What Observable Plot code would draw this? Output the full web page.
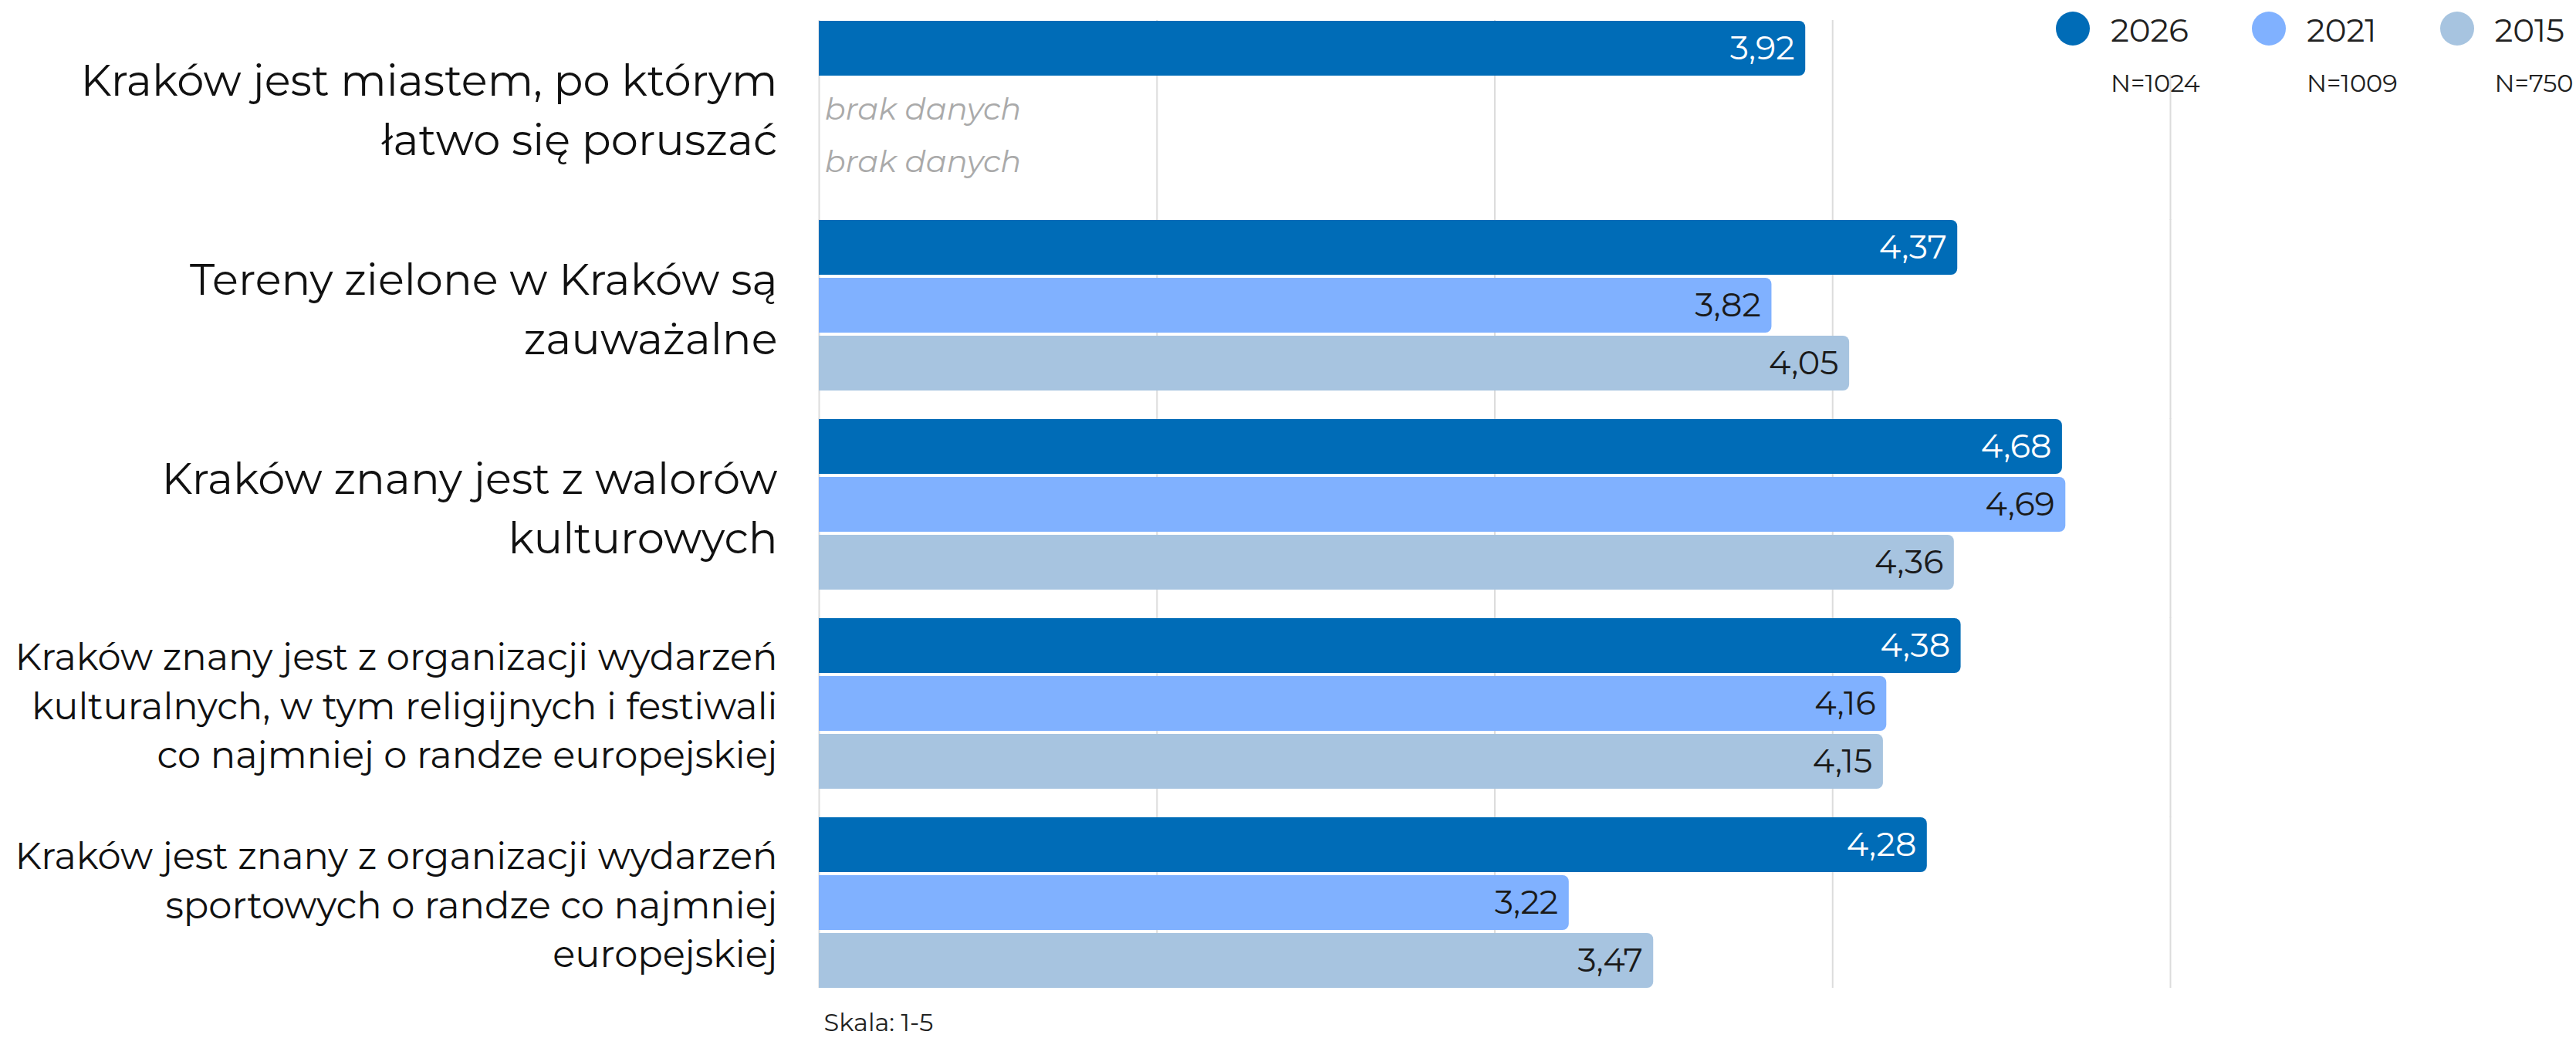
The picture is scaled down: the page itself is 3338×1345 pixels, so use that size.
<!DOCTYPE html>
<html><head><meta charset="utf-8">
<script src="https://cdn.jsdelivr.net/npm/d3@7"></script>
<script src="https://cdn.jsdelivr.net/npm/@observablehq/plot@0.6"></script>
<style>
html,body{margin:0;padding:0;background:#fff;}
#wrap{position:relative;width:3338px;height:1345px;font-family:Montserrat, Inter, sans-serif;}
#legend{position:absolute;left:2664px;top:15px;display:flex;background:#fff;height:82px;align-items:flex-start}
.item{position:relative;display:flex;align-items:center;margin-right:82px;}
.item:last-child{margin-right:0}
.dot{width:44px;height:44px;border-radius:50%;margin-right:27px;flex:none}
.yr{font-size:42px;line-height:44px;color:#222;position:relative;top:2px}
.n{position:absolute;left:71px;top:77px;font-size:32px;line-height:32px;color:#222;white-space:nowrap}
</style></head>
<body><div id="wrap"><div id="legend"></div></div>
<script>
const categories = [
  "Kraków jest miastem, po którym\nłatwo się poruszać",
  "Tereny zielone w Kraków są\nzauważalne",
  "Kraków znany jest z walorów\nkulturowych",
  "Kraków znany jest z organizacji wydarzeń\nkulturalnych, w tym religijnych i festiwali\nco najmniej o randze europejskiej",
  "Kraków jest znany z organizacji wydarzeń\nsportowych o randze co najmniej\neuropejskiej"
];
const years = ["2026", "2021", "2015"];
const sampleSizes = ["N=1024", "N=1009", "N=750"];
const values2026 = [3.92, 4.37, 4.68, 4.38, 4.28];
const values2021 = [null, 3.82, 4.69, 4.16, 3.22];
const values2015 = [null, 4.05, 4.36, 4.15, 3.47];
const colors = ["#006cb7", "#80b1ff", "#a7c4e0"];
const xTicks = [1, 2, 3, 4, 5];
const missingLabel = "brak danych";
const scaleNote = "Skala: 1-5";

const series = [values2026, values2021, values2015];
const rows = [];
categories.forEach((c, i) => {
  series.forEach((arr, j) => rows.push({category: c, year: years[j], value: arr[i]}));
});
const fmt = v => d3.format(".2f")(v).replace(".", ",");
const present = rows.filter(d => d.value != null);
const missing = rows.filter(d => d.value == null);
const xMin = xTicks[0];
const lastCat = categories[categories.length - 1];
const grid = categories.flatMap(c => xTicks.map(t => ({category: c, tick: t})));
const shortLabels = categories.filter(c => c.split("\n").length <= 2);
const longLabels = categories.filter(c => c.split("\n").length > 2);

const chart = Plot.plot({
  width: 3338, height: 1345,
  marginLeft: 1061, marginRight: 526, marginTop: 26, marginBottom: 65,
  style: {fontFamily: "Montserrat, Inter, sans-serif", background: "white"},
  x: {domain: [xTicks[0], xTicks[xTicks.length - 1]], axis: null},
  y: {domain: years, paddingInner: 0.054, paddingOuter: 0, axis: null},
  fy: {domain: categories, paddingInner: 0.14, paddingOuter: 0, axis: null},
  color: {domain: years, range: colors},
  marks: [
    Plot.ruleX(grid.filter(d => d.category !== lastCat), {fy: "category", x: "tick", stroke: "#dcdcdc", strokeWidth: 2, insetBottom: -37}),
    Plot.ruleX(grid.filter(d => d.category === lastCat), {fy: "category", x: "tick", stroke: "#dcdcdc", strokeWidth: 2}),
    Plot.barX(present, {fy: "category", y: "year", x1: () => xMin, x2: "value", fill: "year", rx2: 8}),
    Plot.text(present.filter(d => d.year === years[0]), {fy: "category", y: "year", x: "value", text: d => fmt(d.value), textAnchor: "end", dx: -14, fill: "white", fontSize: 43}),
    Plot.text(present.filter(d => d.year !== years[0]), {fy: "category", y: "year", x: "value", text: d => fmt(d.value), textAnchor: "end", dx: -14, fill: "#1a1a1a", fontSize: 43}),
    Plot.text(missing.filter(d => d.year === years[1]), {fy: "category", y: "year", x: () => xMin, text: () => missingLabel, textAnchor: "start", dx: 7, dy: 4, fill: "#aaaaaa", fontStyle: "italic", fontSize: 40}),
    Plot.text(missing.filter(d => d.year === years[2]), {fy: "category", y: "year", x: () => xMin, text: () => missingLabel, textAnchor: "start", dx: 7, dy: -3, fill: "#aaaaaa", fontStyle: "italic", fontSize: 40}),
    Plot.text(shortLabels, {fy: d => d, text: d => d, frameAnchor: "left", dx: -54, textAnchor: "end", fontSize: 56, lineHeight: 1.375, fill: "#111"}),
    Plot.text(longLabels, {fy: d => d, text: d => d, frameAnchor: "left", dx: -54, textAnchor: "end", fontSize: 48, lineHeight: 1.32, fill: "#111"}),
    Plot.text([scaleNote], {fy: () => lastCat, frameAnchor: "bottom-left", text: d => d, dx: 6, dy: 55, lineAnchor: "bottom", fontSize: 32, fill: "#222"})
  ]
});
const wrap = document.getElementById("wrap");
wrap.appendChild(chart);
chart.style.position = "absolute";
chart.style.left = "0";
chart.style.top = "0";

const legend = document.getElementById("legend");
wrap.appendChild(legend);
years.forEach((y, i) => {
  const item = document.createElement("div");
  item.className = "item";
  const dot = document.createElement("div");
  dot.className = "dot";
  dot.style.background = colors[i];
  const t = document.createElement("div");
  t.className = "yr";
  t.textContent = y;
  const n = document.createElement("div");
  n.className = "n";
  n.textContent = sampleSizes[i];
  item.append(dot, t, n);
  legend.appendChild(item);
});
</script></body></html>
